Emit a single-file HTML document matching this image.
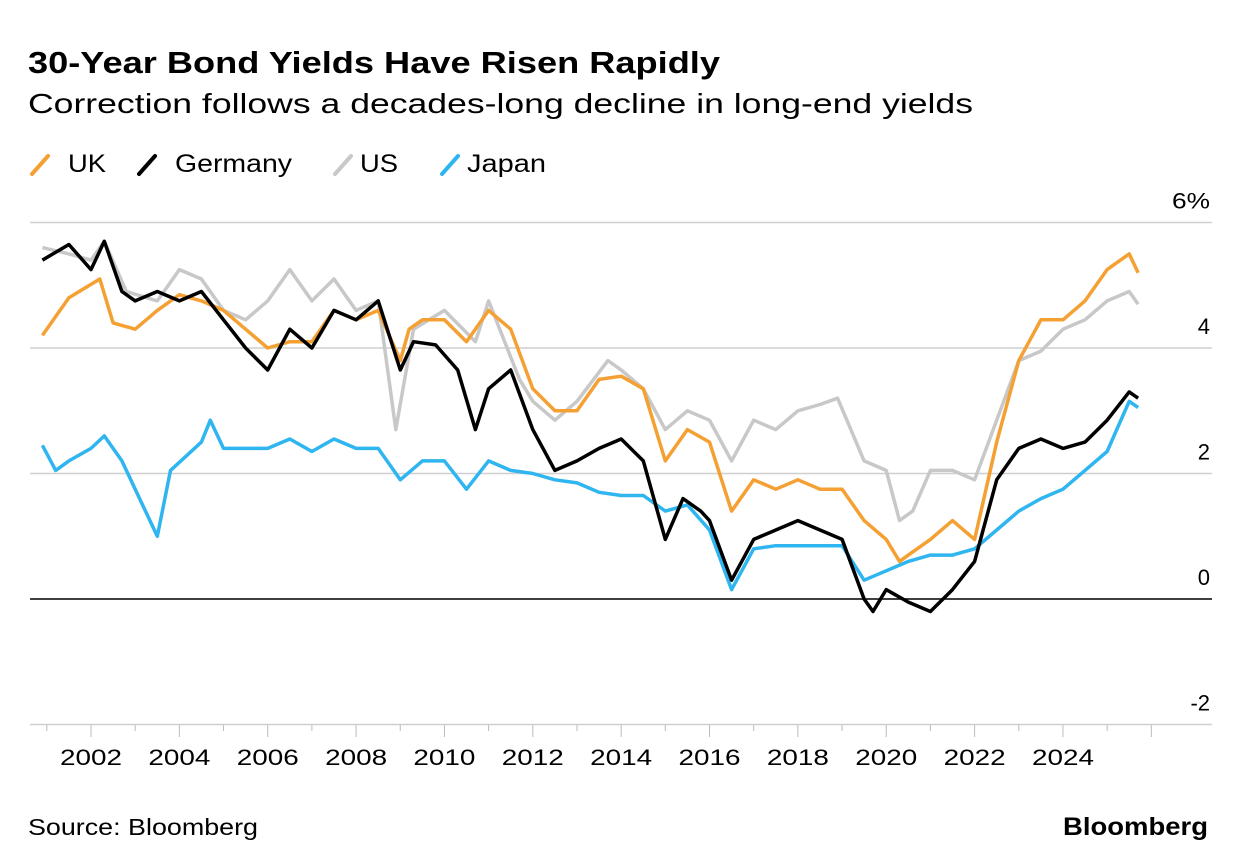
<!DOCTYPE html>
<html><head><meta charset="utf-8"><style>
body{margin:0;background:#fff;font-family:"Liberation Sans",Arial,sans-serif;}
#wrap{position:relative;width:1237px;height:868px;overflow:hidden;}
</style></head><body>
<div id="wrap">
<svg id="chart" width="1237" height="868">
<text x="28" y="73" font-size="31" font-weight="bold" fill="#000" textLength="692" lengthAdjust="spacingAndGlyphs">30-Year Bond Yields Have Risen Rapidly</text>
<text x="28" y="113" font-size="28" fill="#000" textLength="945" lengthAdjust="spacingAndGlyphs">Correction follows a decades-long decline in long-end yields</text>
<g id="legend"></g>
<g id="grid"></g>
<g id="xaxis"></g>
<g id="series"></g>
<text x="28" y="835" font-size="23" fill="#000" textLength="230" lengthAdjust="spacingAndGlyphs">Source: Bloomberg</text>
<text x="1063" y="835" font-size="25" font-weight="bold" fill="#000" textLength="145" lengthAdjust="spacingAndGlyphs">Bloomberg</text>
</svg>
</div>
<script>
const yTicks=[6,4,2,0,-2];
const xTicks=[2002,2004,2006,2008,2010,2012,2014,2016,2018,2020,2022,2024];
const seriesNames=["US","UK","Japan","Germany"];
const seriesColors=["#c8c8c8","#f5a033","#2fb5ef","#000000"];
const ukT=[2000.9,2001.5,2002.2,2002.5,2003,2003.5,2004,2004.5,2005,2005.5,2006,2006.5,2007,2007.5,2008,2008.5,2009,2009.2,2009.5,2010,2010.5,2011,2011.5,2012,2012.5,2013,2013.5,2014,2014.5,2015,2015.5,2016,2016.5,2017,2017.5,2018,2018.5,2019,2019.5,2020,2020.3,2020.5,2021,2021.5,2022,2022.5,2023,2023.5,2024,2024.5,2025,2025.5,2025.7];
const ukV=[4.2,4.8,5.1,4.4,4.3,4.6,4.85,4.75,4.6,4.3,4.0,4.1,4.1,4.6,4.45,4.6,3.8,4.3,4.45,4.45,4.1,4.6,4.3,3.35,3.0,3.0,3.5,3.55,3.35,2.2,2.7,2.5,1.4,1.9,1.75,1.9,1.75,1.75,1.25,0.95,0.6,0.7,0.95,1.25,0.95,2.5,3.8,4.45,4.45,4.75,5.25,5.5,5.2];
const deT=[2000.9,2001.5,2002,2002.3,2002.7,2003,2003.5,2004,2004.5,2005,2005.5,2006,2006.5,2007,2007.5,2008,2008.5,2009,2009.3,2009.8,2010.3,2010.7,2011,2011.5,2012,2012.5,2013,2013.5,2014,2014.5,2015,2015.4,2015.8,2016,2016.5,2017,2017.5,2018,2018.5,2019,2019.5,2019.7,2020,2020.5,2021,2021.5,2022,2022.5,2023,2023.5,2024,2024.5,2025,2025.5,2025.7];
const deV=[5.4,5.65,5.25,5.7,4.9,4.75,4.9,4.75,4.9,4.45,4.0,3.65,4.3,4.0,4.6,4.45,4.75,3.65,4.1,4.05,3.65,2.7,3.35,3.65,2.7,2.05,2.2,2.4,2.55,2.2,0.95,1.6,1.4,1.25,0.3,0.95,1.1,1.25,1.1,0.95,0.0,-0.2,0.15,-0.05,-0.2,0.15,0.6,1.9,2.4,2.55,2.4,2.5,2.85,3.3,3.2];
const usT=[2000.9,2001.5,2002,2002.3,2002.8,2003.5,2004,2004.5,2005,2005.5,2006,2006.5,2007,2007.5,2008,2008.5,2008.9,2009.3,2010,2010.7,2011,2011.7,2012,2012.5,2013,2013.7,2014,2014.5,2015,2015.5,2016,2016.5,2017,2017.5,2018,2018.5,2018.9,2019.5,2020,2020.3,2020.6,2021,2021.5,2022,2022.5,2023,2023.5,2024,2024.5,2025,2025.5,2025.7];
const usV=[5.6,5.5,5.4,5.7,4.9,4.75,5.25,5.1,4.6,4.45,4.75,5.25,4.75,5.1,4.6,4.75,2.7,4.3,4.6,4.1,4.75,3.5,3.15,2.85,3.15,3.8,3.65,3.35,2.7,3.0,2.85,2.2,2.85,2.7,3.0,3.1,3.2,2.2,2.05,1.25,1.4,2.05,2.05,1.9,2.85,3.8,3.95,4.3,4.45,4.75,4.9,4.7];
const jpT=[2000.9,2001.2,2001.5,2002,2002.3,2002.7,2003,2003.5,2003.8,2004.5,2004.7,2005,2005.5,2006,2006.5,2007,2007.5,2008,2008.5,2009,2009.5,2010,2010.5,2011,2011.5,2012,2012.5,2013,2013.5,2014,2014.5,2015,2015.5,2016,2016.5,2017,2017.5,2018,2018.5,2019,2019.5,2020,2020.5,2021,2021.5,2022,2022.5,2023,2023.5,2024,2024.5,2025,2025.5,2025.7];
const jpV=[2.45,2.05,2.2,2.4,2.6,2.2,1.75,1.0,2.05,2.5,2.85,2.4,2.4,2.4,2.55,2.35,2.55,2.4,2.4,1.9,2.2,2.2,1.75,2.2,2.05,2.0,1.9,1.85,1.7,1.65,1.65,1.4,1.5,1.1,0.15,0.8,0.85,0.85,0.85,0.85,0.3,0.45,0.6,0.7,0.7,0.8,1.1,1.4,1.6,1.75,2.05,2.35,3.15,3.05];

const NS="http://www.w3.org/2000/svg";
function X(t){return 91+(t-2002)*44.18;}
function Y(v){return 599-v*62.75;}
function mk(tag,attrs,parent){const e=document.createElementNS(NS,tag);for(const k in attrs)e.setAttribute(k,attrs[k]);parent.appendChild(e);return e;}
const grid=document.getElementById('grid');
yTicks.forEach(v=>{
  const l=mk('line',{x1:30,x2:1212,y1:Y(v),y2:Y(v),stroke:v===0?'#000':'#cfcfcf','stroke-width':1.5},grid);
  
  
  const t=mk('text',{x:1210,y:Y(v)-14,'font-size':22,'text-anchor':'end',fill:'#000'},grid);
  t.textContent=v===6?'6%':String(v);
  if(v===6){t.setAttribute('textLength',38);t.setAttribute('lengthAdjust','spacingAndGlyphs');}
  
  
});
const xa=document.getElementById('xaxis');
for(let yr=2001;yr<=2026;yr++){
  const tk=mk('line',{x1:X(yr),x2:X(yr),y1:725,y2:yr%2===0?737:731,stroke:'#bbb','stroke-width':1},xa);
  
  
}
xTicks.forEach(yr=>{
  const t=mk('text',{x:X(yr)-31,y:765,'font-size':22,fill:'#000',textLength:62,lengthAdjust:'spacingAndGlyphs'},xa);
  t.textContent=String(yr);
  
  
});
const ser=document.getElementById('series');
const data={US:[usT,usV],UK:[ukT,ukV],Japan:[jpT,jpV],Germany:[deT,deV]};
seriesNames.forEach((n,i)=>{
  const [ts,vs]=data[n];
  const d=ts.map((t,j)=>(j?'L':'M')+X(t).toFixed(1)+','+Y(vs[j]).toFixed(1)).join(' ');
  const p=mk('path',{d:d,fill:'none',stroke:seriesColors[i],'stroke-width':3.5,'stroke-linejoin':'round'},ser);
  
  
});
const lg=document.getElementById('legend');
const legendItems=[["UK","#f5a033",30,68,38],["Germany","#000000",137,175,117],["US","#c8c8c8",333,360,38],["Japan","#2fb5ef",440,467,79]];
legendItems.forEach(([n,c,x,tx,tw])=>{
  const g=mk('g',{},lg);
  
  
  mk('line',{x1:x+2,y1:174,x2:x+18,y2:156,stroke:c,'stroke-width':4,'stroke-linecap':'round'},g);
  const t=mk('text',{x:tx,y:172,'font-size':25,fill:'#000',textLength:tw,lengthAdjust:'spacingAndGlyphs'},g);
  t.textContent=n;
});
</script>
</body></html>
